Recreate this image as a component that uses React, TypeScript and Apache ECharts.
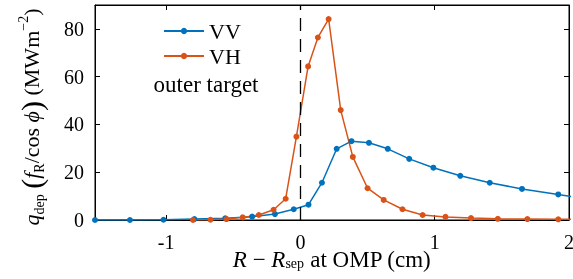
import React, { useEffect, useRef } from "react";
import * as echarts from "echarts";

const vvX = [-1.53, -1.27, -1.02, -0.79, -0.56, -0.36, -0.19, -0.05, 0.06, 0.16, 0.27, 0.38, 0.51, 0.65, 0.81, 0.99, 1.19, 1.41, 1.65, 1.92, 2.22];
const vvY = [0.0, 0.0, 0.1, 0.4, 0.7, 1.4, 2.5, 4.5, 6.4, 15.6, 29.8, 33.0, 32.3, 29.8, 25.6, 21.9, 18.5, 15.6, 13.0, 10.7, 8.0];
const vhX = [-0.80, -0.67, -0.55, -0.43, -0.31, -0.20, -0.11, -0.03, 0.057, 0.13, 0.21, 0.30, 0.39, 0.50, 0.62, 0.76, 0.91, 1.08, 1.27, 1.47, 1.69, 1.92, 2.2];
const vhY = [0.0, 0.1, 0.4, 1.1, 2.1, 4.3, 8.9, 34.9, 64.3, 76.4, 84.1, 46.0, 26.4, 13.3, 8.4, 4.5, 2.1, 1.3, 0.8, 0.5, 0.4, 0.3, 0.2];
const xTicks = [-1, 0, 1, 2];
const yTicks = [0, 20, 40, 60, 80];
const seriesNames = ["VV", "VH"];
const annotation = "outer target";
const xTitle = "{i|R} − {i|R}{sub|sep} at OMP (cm)";
const yTitle = "{i|q}{sub|dep} {p|(}{i|f}{sub|R}/cos {i|ϕ}{p|)} (MWm{sup|−2})";

const FONT = "Liberation Serif";
const BLUE = "#0072BD";
const ORANGE = "#D95319";

export default function App() {
  const ref = useRef<HTMLDivElement>(null);
  useEffect(() => {
    if (!ref.current) return;
    const chart = echarts.init(ref.current, null, { renderer: "svg" });
    const tickStyle = { show: true, inside: true, length: 5, lineStyle: { color: "#000", width: 1 } };
    const lineStyle = { show: true, onZero: false, lineStyle: { color: "#000", width: 1 } };
    const mk = (xs: number[], ys: number[]) => xs.map((x, i) => [x, ys[i]]);
    const rich = (fs: number) => ({
      i: { fontFamily: FONT, fontStyle: "italic", fontSize: fs, fill: "#000", color: "#000" },
      n: { fontFamily: FONT, fontSize: fs, fill: "#000", color: "#000" },
      p: { fontFamily: FONT, fontSize: fs + 8, fill: "#000", color: "#000" },
      sub: { fontFamily: FONT, fontSize: 14, fill: "#000", color: "#000", verticalAlign: "bottom", padding: [9, 0, 0, 0] },
      sup: { fontFamily: FONT, fontSize: 14, fill: "#000", color: "#000", verticalAlign: "top", padding: [0, 0, 9, 0] },
    });
    chart.setOption({
      animation: false,
      grid: {
        left: 95, right: 4, top: 5, bottom: 59,
        outerBoundsMode: "none",
        show: true, borderColor: "#000", borderWidth: 1, backgroundColor: "transparent",
      },
      legend: {
        data: seriesNames,
        orient: "vertical",
        left: 163,
        top: 20,
        padding: 0,
        itemWidth: 40,
        itemHeight: 8,
        itemGap: 3,
        textStyle: { fontFamily: FONT, fontSize: 22, color: "#000", lineHeight: 21 },
      },
      xAxis: [
        {
          type: "value",
          min: -1.53,
          max: 2,
          splitLine: { show: false },
          axisLine: lineStyle,
          axisTick: { ...tickStyle, customValues: xTicks },
          axisLabel: { customValues: xTicks, color: "#000", fontFamily: FONT, fontSize: 20, margin: 12 },
        },
        {
          type: "value",
          position: "top",
          gridIndex: 0,
          min: -1.53,
          max: 2,
          splitLine: { show: false },
          axisLine: lineStyle,
          axisTick: { ...tickStyle, customValues: xTicks },
          axisLabel: { show: false, customValues: xTicks },
        },
      ],
      yAxis: [
        {
          type: "value",
          min: 0,
          max: 90,
          splitLine: { show: false },
          axisLine: lineStyle,
          axisTick: { ...tickStyle, customValues: yTicks },
          axisLabel: { customValues: yTicks, color: "#000", fontFamily: FONT, fontSize: 20, margin: 11 },
        },
        {
          type: "value",
          position: "right",
          gridIndex: 0,
          min: 0,
          max: 90,
          splitLine: { show: false },
          axisLine: lineStyle,
          axisTick: { ...tickStyle, customValues: yTicks },
          axisLabel: { show: false, customValues: yTicks },
        },
      ],
      graphic: [
        {
          type: "text",
          x: 206,
          y: 84,
          style: { text: annotation, fontFamily: FONT, fontSize: 23, fill: "#000", align: "center", verticalAlign: "middle" },
        },
        {
          type: "text",
          x: 332,
          y: 259,
          style: { text: xTitle, rich: rich(23), fontFamily: FONT, fontSize: 23, fill: "#000", align: "center", verticalAlign: "middle" },
        },
        {
          type: "text",
          x: 31,
          y: 117,
          rotation: Math.PI / 2,
          style: { text: yTitle, rich: rich(22), fontFamily: FONT, fontSize: 22, fill: "#000", align: "center", verticalAlign: "middle" },
        },
      ],
      series: [
        {
          name: seriesNames[0],
          type: "line",
          data: mk(vvX, vvY),
          symbol: "circle",
          symbolSize: 6,
          color: BLUE,
          lineStyle: { width: 1.5, color: BLUE },
          itemStyle: { color: BLUE },
          markLine: {
            silent: true,
            symbol: "none",
            label: { show: false },
            lineStyle: { color: "#000", width: 1.3, type: [13, 8] },
            data: [{ xAxis: 0 }],
          },
        },
        {
          name: seriesNames[1],
          type: "line",
          data: mk(vhX, vhY),
          symbol: "circle",
          symbolSize: 6,
          color: ORANGE,
          lineStyle: { width: 1.5, color: ORANGE },
          itemStyle: { color: ORANGE },
        },
        {
          name: "_frame",
          type: "line",
          xAxisIndex: 1,
          yAxisIndex: 1,
          data: [],
          silent: true,
          showSymbol: false,
        },
      ],
    });
    return () => chart.dispose();
  }, []);
  return <div ref={ref} style={{ position: "fixed", left: 0, top: 0, width: 573, height: 279 }} />;
}
